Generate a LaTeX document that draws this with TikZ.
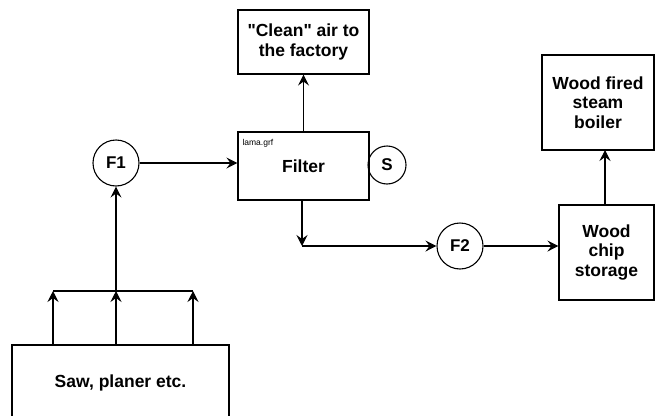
\documentclass[tikz,border=0pt]{standalone}
\usepackage{fontspec}
\setmainfont{Liberation Sans}[Ligatures=TeXOff]
\usetikzlibrary{arrows.meta,calc}
\begin{document}
\begin{tikzpicture}[x=1pt,y=-1pt,
  line width=1.1pt,
  box/.style={draw,rectangle,inner sep=0pt,align=center,font=\fontsize{17.5}{19.5}\selectfont\bfseries},
  circ/.style={draw,circle,inner sep=0pt,font=\fontsize{17}{19}\selectfont\bfseries},
  arr/.style={-{Stealth[length=11pt,width=11pt,inset=4pt]}}]
\useasboundingbox (0,0) rectangle (655,415);
\node[box,minimum width=131pt,minimum height=64pt] (clean) at (303.5,42) {"Clean" air to\\the factory};
\node[box,minimum width=131pt,minimum height=68pt] (filter) at (303.5,166) {Filter};
\node[anchor=base west,inner sep=0pt,font=\fontsize{8.5}{10}\selectfont] (lama) at (242,145) {lama.grf};
\node[circ,minimum size=38pt] (S) at (387,165) {S};
\node[circ,minimum size=46pt] (F1) at (116,163) {F1};
\node[circ,minimum size=46pt] (F2) at (460,246) {F2};
\node[box,minimum width=95pt,minimum height=95pt] (chip) at (606.5,252.5) {Wood\\chip\\storage};
\node[box,minimum width=112pt,minimum height=95pt] (boiler) at (598,102.5) {Wood fired\\steam\\boiler};
\node[box,minimum width=217pt,minimum height=76pt] (saw) at (120.5,383) {Saw, planer etc.};
\coordinate (c) at (302,246);
\coordinate (s1) at (53,345);
\coordinate (s2) at (116,345);
\coordinate (s3) at (193,345);
\coordinate (j1) at (53,291);
\coordinate (j2) at (116,291);
\coordinate (j3) at (193,291);
\draw[arr] (filter.north) -- (clean.south);
\draw[arr] (F1.east) -- (F1.east -| filter.west);
\draw[arr] (c |- filter.south) -- (c);
\draw[arr] (c) -- (F2.west);
\draw[arr] (F2.east) -- (F2.east -| chip.west);
\draw[arr] (605,205) -- (605,150);
\draw[arr] (s1) -- (j1);
\draw[arr] (s2) -- (j2);
\draw[arr] (s3) -- (j3);
\draw (j1) -- (j3);
\draw[arr] (j2) -- (F1.south);
\end{tikzpicture}
\end{document}
